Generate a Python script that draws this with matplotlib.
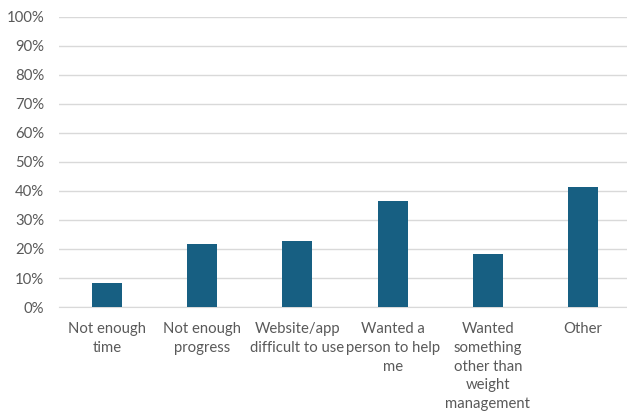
import matplotlib.pyplot as plt
import numpy as np
from matplotlib.ticker import PercentFormatter

plt.rcParams['font.family'] = ['Lato', 'DejaVu Sans']

categories = ['Not enough\ntime', 'Not enough\nprogress', 'Website/app\ndifficult to use',
              'Wanted a\nperson to help\nme', 'Wanted\nsomething\nother than\nweight\nmanagement',
              'Other']
values = [8.2, 21.6, 22.8, 36.4, 18.2, 41.5]

bar_color = '#175f82'
text_color = '#595959'

fig = plt.figure(figsize=(6.27, 4.11), dpi=100)
ax = fig.add_axes([0.0947, 0.253, 0.911, 0.706])

x = np.arange(len(categories))
ax.bar(x, values, width=0.315, color=bar_color, zorder=3)

ax.set_ylim(0, 100)
ax.set_xlim(-0.5, len(categories) - 0.5)
ax.set_yticks(np.arange(0, 101, 10))
ax.yaxis.set_major_formatter(PercentFormatter(decimals=0))
ax.grid(axis='y', color='#d9d9d9', linewidth=1, zorder=0)

ax.set_xticks(x)
ax.set_xticklabels(categories, linespacing=1.42)
ax.tick_params(axis='both', length=0, colors=text_color, labelsize=10.7)
ax.tick_params(axis='x', pad=11)
ax.tick_params(axis='y', pad=11)

for s in ['top', 'right', 'left']:
    ax.spines[s].set_visible(False)
ax.spines['bottom'].set_color('#d9d9d9')

fig.savefig('out.png', dpi=100)
